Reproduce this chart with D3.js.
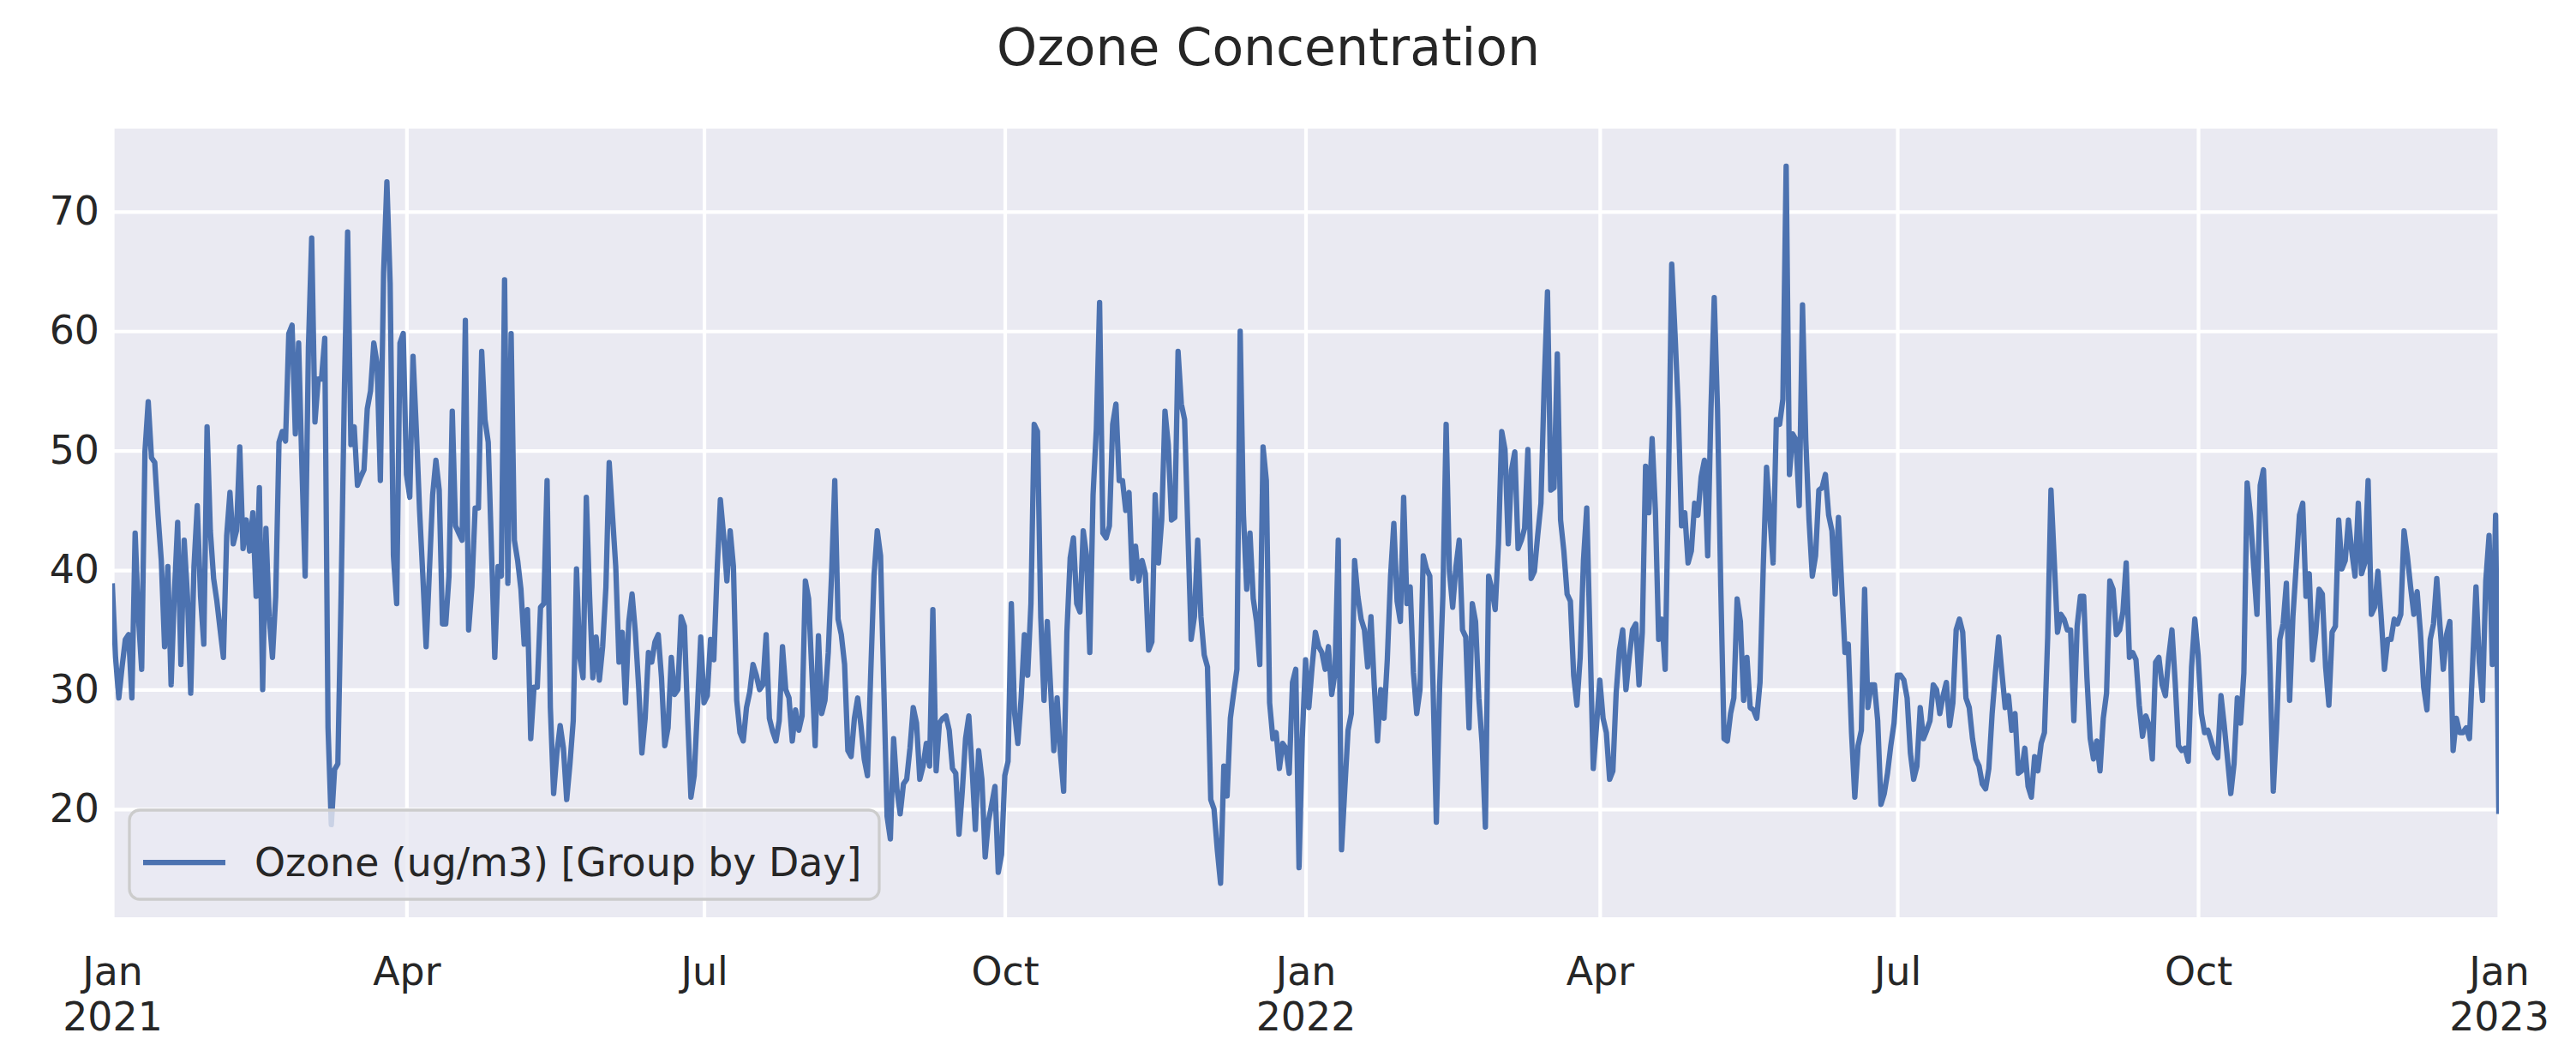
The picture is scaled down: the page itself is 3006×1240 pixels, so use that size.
<!DOCTYPE html>
<html>
<head>
<meta charset="utf-8">
<script src="https://cdn.jsdelivr.net/npm/d3@7"></script>
<style>
  body { margin: 0; background: #fff; }
  text { font-family: "DejaVu Sans", sans-serif; fill: #262626; }
</style>
</head>
<body>
<script>
// daily ozone values
const ozone2021 = [
  38.9, 32.7, 29.3, 31.9, 34.2, 34.6, 29.3, 43.1, 36.1, 31.7,
  49.9, 54.1, 49.4, 49.0, 44.6, 40.8, 33.6, 40.3, 30.4, 38.0,
  44.0, 32.1, 42.5, 37.8, 29.7, 40.3, 45.4, 37.8, 33.8, 52.0,
  43.3, 39.3, 37.4, 35.0, 32.7, 42.9, 46.5, 42.2, 43.3, 50.3,
  41.8, 44.2, 41.6, 44.8, 37.8, 46.9, 30.0, 43.5, 36.1, 32.7,
  37.8, 50.7, 51.6, 50.8, 59.8, 60.5, 51.4, 59.0, 48.8, 39.5,
  58.6, 67.8, 52.4, 56.0, 56.0, 59.4, 26.8, 18.7, 23.3, 23.8,
  38.0, 55.0, 68.3, 50.5, 52.0, 47.1, 47.8, 48.4, 53.5, 55.0,
  59.0, 57.3, 47.5, 64.9, 72.5, 64.0, 41.2, 37.2, 59.0, 59.8,
  48.0, 46.1, 57.9, 51.8, 45.0, 39.5, 33.6, 39.9, 46.3, 49.2,
  46.7, 35.5, 35.5, 39.5, 53.3, 43.7, 43.1, 42.5, 60.9, 35.0,
  38.6, 45.2, 45.2, 58.3, 52.6, 50.7, 41.6, 32.7, 40.3, 39.5,
  64.3, 38.9, 59.8, 42.5, 40.8, 38.4, 33.8, 36.7, 25.9, 30.2,
  30.2, 36.9, 37.2, 47.5, 28.5, 21.3, 24.7, 27.0, 25.1, 20.8,
  23.8, 27.4, 40.1, 32.7, 31.0, 46.1, 37.8, 31.0, 34.4, 30.8,
  33.6, 38.6, 49.0, 44.6, 40.3, 32.3, 34.8, 28.9, 35.7, 38.0,
  34.8, 30.3, 24.7, 27.6, 33.1, 32.3, 34.0, 34.6, 31.0, 25.3,
  26.8, 32.7, 29.6, 30.0, 36.1, 35.3, 27.6, 21.0, 22.8, 28.5,
  34.4, 28.9, 29.5, 34.2, 32.5, 39.9, 45.9, 42.9, 39.1, 43.3,
  40.3, 29.1, 26.4, 25.7, 28.5, 29.8, 32.1, 31.2, 30.0, 30.4,
  34.6, 27.6, 26.5, 25.7, 27.4, 33.6, 30.0, 29.3, 25.7, 28.3,
  26.6, 27.8, 39.1, 37.6, 31.4, 25.3, 34.5, 28.0, 29.1, 33.1,
  39.5, 47.5, 35.9, 34.6, 32.1, 24.9, 24.4, 27.6, 29.3, 27.0,
  24.2, 22.8, 31.4, 39.5, 43.3, 41.2, 30.2, 19.4, 17.5, 25.9,
  21.7, 19.6, 22.1, 22.5, 25.1, 28.5, 27.2, 22.5, 23.6, 25.5,
  23.6, 36.7, 23.2, 27.2, 27.6, 27.8, 26.6, 23.4, 23.0, 17.9,
  21.5, 25.9, 27.8, 23.4, 18.3, 24.9, 22.5, 16.0, 19.0, 20.4,
  21.9, 14.7, 16.2, 22.8, 24.0, 37.2, 28.0, 25.5, 29.3, 34.6,
  31.2, 37.2, 52.2, 51.6, 36.1, 29.1, 35.7, 30.2, 24.9, 29.3,
  24.7, 21.5, 34.8, 41.0, 42.7, 37.2, 36.5, 43.3, 41.2, 33.1,
  46.3, 51.8, 62.4, 43.1, 42.7, 43.7, 52.2, 53.9, 47.5, 47.5,
  45.0, 46.5, 39.3, 42.0, 39.1, 40.8, 39.7, 33.3, 34.0, 46.3,
  40.6, 44.2, 53.3, 50.5, 44.2, 44.4, 58.3, 53.9, 52.6, 43.3,
  34.2, 36.1, 42.5, 36.1, 32.9, 31.9, 20.8, 20.0, 16.6, 13.8,
  23.6, 21.1, 27.6, 29.7, 31.7, 60.0, 44.6, 38.4, 43.1, 37.6,
  35.7, 32.1, 50.3, 47.5, 28.9, 25.9, 26.4, 23.4, 25.5, 25.1,
  23.0, 30.6, 31.7, 15.1, 25.9
];
const ozone2022 = [
  32.5, 28.5, 31.9, 34.8, 33.6,
  33.1, 31.7, 33.6, 29.6, 31.4, 42.5, 16.6, 21.7, 26.6, 28.0,
  40.8, 37.8, 35.9, 35.0, 31.9, 36.1, 30.4, 25.7, 30.0, 27.6,
  32.5, 39.5, 43.9, 37.4, 35.7, 46.1, 37.2, 38.6, 31.4, 28.0,
  30.0, 41.2, 40.1, 39.5, 30.2, 18.9, 30.2, 37.8, 52.2, 39.9,
  36.9, 40.3, 42.5, 35.0, 34.4, 26.8, 37.2, 35.7, 29.3, 25.5,
  18.5, 39.5, 38.4, 36.7, 42.2, 51.6, 50.1, 42.2, 48.4, 49.9,
  41.8, 42.5, 43.5, 50.1, 39.3, 39.9, 42.9, 45.6, 55.6, 63.3,
  46.7, 46.9, 58.1, 44.2, 41.6, 38.0, 37.4, 31.2, 28.7, 32.7,
  40.8, 45.2, 34.4, 23.4, 27.0, 30.8, 27.6, 26.4, 22.5, 23.2,
  29.7, 33.3, 35.0, 30.0, 32.7, 35.0, 35.5, 30.4, 34.8, 48.7,
  44.8, 51.0, 45.0, 34.2, 35.9, 31.7, 47.1, 65.6, 59.8, 53.5,
  43.7, 44.8, 40.6, 41.6, 45.6, 44.6, 47.8, 49.2, 41.2, 53.5,
  62.8, 53.5, 38.6, 25.9, 25.7, 28.0, 29.3, 37.6, 35.7, 29.1,
  32.7, 28.5, 28.3, 27.6, 30.6, 40.3, 48.6, 44.6, 40.6, 52.6,
  52.2, 54.3, 73.8, 48.0, 51.4, 50.9, 45.4, 62.2, 50.9, 44.2,
  39.5, 41.2, 46.7, 46.9, 48.0, 44.6, 43.3, 38.0, 44.4, 38.6,
  33.1, 33.8, 26.4, 21.0, 25.3, 26.6, 38.4, 28.5, 30.4, 30.4,
  27.4, 20.4, 21.3, 23.0, 25.3, 27.2, 31.2, 31.2, 30.8, 29.3,
  24.7, 22.5, 23.6, 28.5, 25.9, 26.6, 27.4, 30.4, 30.0, 28.0,
  29.5, 30.6, 27.0, 28.9, 35.0, 35.9, 34.8, 29.3, 28.5, 25.9,
  24.2, 23.6, 22.1, 21.7, 23.4, 28.0, 31.4, 34.4, 31.4, 28.5,
  29.5, 26.6, 28.0, 23.0, 23.2, 25.1, 21.9, 21.0, 24.4, 23.2,
  25.5, 26.4, 34.4, 46.7, 40.8, 34.8, 36.3, 35.9, 35.0, 35.0,
  27.4, 35.3, 37.8, 37.8, 31.0, 25.9, 24.2, 25.7, 23.2, 27.6,
  29.7, 39.1, 38.4, 34.6, 35.0, 36.5, 40.6, 32.7, 33.1, 32.5,
  28.7, 26.1, 27.8, 27.0, 24.2, 32.3, 32.7, 30.4, 29.5, 32.7,
  35.0, 30.6, 25.3, 24.9, 25.1, 24.0, 31.9, 35.9, 32.9, 28.0,
  26.4, 26.6, 25.7, 24.7, 24.3, 29.5, 27.0, 24.2, 21.3, 23.8,
  29.3, 27.2, 31.4, 47.3, 44.6, 40.3, 36.3, 47.1, 48.4, 40.8,
  31.9, 21.5, 26.8, 34.2, 35.5, 38.9, 29.1, 36.1, 40.3, 44.6,
  45.6, 37.8, 39.7, 32.5, 34.8, 38.4, 38.0, 31.9, 28.7, 34.8,
  35.3, 44.2, 40.1, 40.8, 44.2, 41.6, 39.5, 45.6, 39.7, 40.6,
  47.5, 36.3, 36.9, 39.9, 36.1, 31.7, 34.2, 34.2, 35.9, 35.5,
  36.3, 43.3, 41.2, 38.6, 36.3, 38.2, 34.8, 30.2, 28.3, 34.2,
  35.5, 39.3, 35.3, 31.7, 34.6, 35.7, 24.9, 27.6, 26.4, 26.4,
  26.8, 25.9, 32.3, 38.6, 32.3, 29.1, 39.1, 42.9, 32.1, 44.6
];
const ozone2023 = [19.6];
const yTicks = [20, 30, 40, 50, 60, 70];
const xTickDates = ["2021-01-01", "2021-04-01", "2021-07-01", "2021-10-01",
                    "2022-01-01", "2022-04-01", "2022-07-01", "2022-10-01", "2023-01-01"];

const W = 3006, H = 1240;
const plotL = 131, plotR = 2916, plotT = 150, plotB = 1070;

const start = new Date(Date.UTC(2021, 0, 1));
const series = ozone2021.concat(ozone2022, ozone2023)
  .map((v, i) => ({ date: d3.utcDay.offset(start, i), value: v }));

let svg = d3.select("body").append("svg")
  .attr("width", W).attr("height", H);

var x = d3.scaleUtc()
  .domain([start, new Date(Date.UTC(2023, 0, 1))])
  .range([plotL, plotR]);
var y = d3.scaleLinear().domain([10.95, 76.95]).range([plotB, plotT]);

svg.append("rect")
  .attr("x", plotL).attr("y", plotT)
  .attr("width", plotR - plotL).attr("height", plotB - plotT)
  .attr("fill", "#EAEAF2");

// grid
let ticksX = xTickDates.map(d => new Date(d + "T00:00:00Z"));
svg.append("g").attr("transform", `translate(0,${plotB})`)
  .call(d3.axisBottom(x).tickValues(ticksX).tickSize(-(plotB - plotT)).tickFormat(""))
  .call(g => g.select(".domain").remove())
  .selectAll("line").attr("stroke", "#fff").attr("stroke-width", 4.2);
svg.append("g").attr("transform", `translate(${plotL},0)`)
  .call(d3.axisLeft(y).tickValues(yTicks).tickSize(-(plotR - plotL)).tickFormat(""))
  .call(g => g.select(".domain").remove())
  .selectAll("line").attr("stroke", "#fff").attr("stroke-width", 4.2);

svg.append("clipPath").attr("id", "plotClip")
  .append("rect").attr("x", plotL).attr("y", plotT)
  .attr("width", plotR - plotL).attr("height", plotB - plotT);

svg.append("path")
  .datum(series)
  .attr("clip-path", "url(#plotClip)")
  .attr("fill", "none")
  .attr("stroke", "#4C72B0")
  .attr("stroke-width", 6.25)
  .attr("stroke-linejoin", "round")
  .attr("d", d3.line().x(d => x(d.date)).y(d => y(d.value)));

// y tick labels
let gy = svg.append("g").attr("transform", `translate(${plotL},0)`)
  .call(d3.axisLeft(y).tickValues(yTicks).tickSize(0).tickPadding(15));
gy.select(".domain").remove();
gy.selectAll("text").attr("font-size", 45.8).attr("fill", "#262626")
  .style("font-family", "DejaVu Sans");

// x tick labels (month, year under January)
let fmtMonth = d3.utcFormat("%b");
let gx = svg.append("g").attr("transform", `translate(0,${plotB})`)
  .call(d3.axisBottom(x).tickValues(ticksX).tickSize(0));
gx.select(".domain").remove();
gx.selectAll("text").each(function(d) {
  let t = d3.select(this).text(null).attr("dy", null).attr("y", null)
    .attr("font-size", 45.8).attr("fill", "#262626").style("font-family", "DejaVu Sans");
  t.append("tspan").attr("x", 0).attr("y", 79).text(fmtMonth(d));
  if (d.getUTCMonth() === 0) {
    t.append("tspan").attr("x", 0).attr("y", 132).text(d.getUTCFullYear());
  }
});

// title
svg.append("text")
  .attr("x", 1480).attr("y", 76)
  .attr("text-anchor", "middle")
  .attr("font-size", 60)
  .text("Ozone Concentration");

// legend
let lg = svg.append("g");
lg.append("rect")
  .attr("x", 151).attr("y", 945).attr("width", 875).attr("height", 104)
  .attr("rx", 12)
  .attr("fill", "#EAEAF2").attr("fill-opacity", 0.8)
  .attr("stroke", "#CCCCCC").attr("stroke-width", 3.3);
lg.append("line")
  .attr("x1", 167).attr("x2", 263).attr("y1", 1006).attr("y2", 1006)
  .attr("stroke", "#4C72B0").attr("stroke-width", 6.25);
lg.append("text")
  .attr("x", 297).attr("y", 1022)
  .attr("font-size", 45.8)
  .text("Ozone (ug/m3) [Group by Day]");
</script>
</body>
</html>
